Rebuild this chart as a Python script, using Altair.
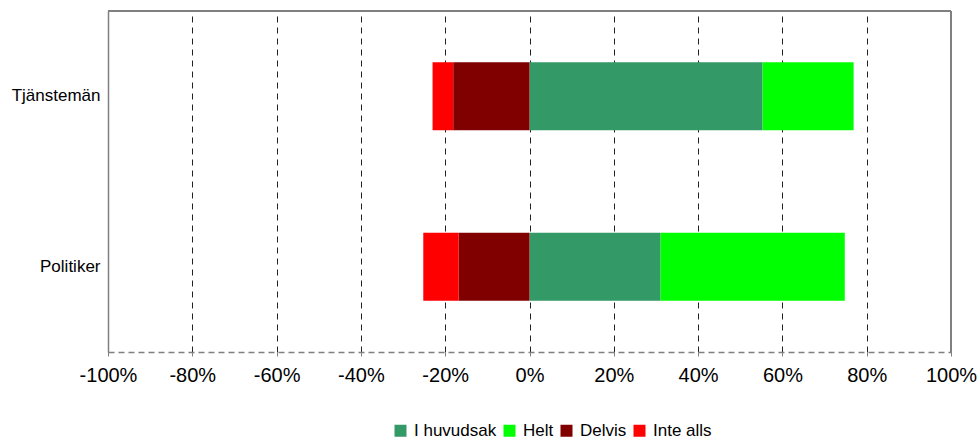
import altair as alt
import pandas as pd

groups = ["Tjänstemän", "Politiker"]
answers = ["I huvudsak", "Helt", "Delvis", "Inte alls"]
colors = ["#339966", "#00FF00", "#800000", "#FF0000"]
stack_order = [0, 1, 0, 1]
sign = [1, 1, -1, -1]
tjansteman = [55.3, 21.6, 18.1, 4.9]
politiker = [31.1, 43.7, 16.8, 8.4]
ticks = [-100, -80, -60, -40, -20, 0, 20, 40, 60, 80, 100]

rows = []
for g, vals in zip(groups, [tjansteman, politiker]):
    for a, v, o, s in zip(answers, vals, stack_order, sign):
        rows.append({"grupp": g, "svar": a, "andel": s * v / 100.0, "ordning": o})
df = pd.DataFrame(rows)

W, H = 843, 341
FONT = "Liberation Sans"

bars = alt.Chart(df).mark_bar().encode(
    x=alt.X("andel:Q", stack="zero",
            scale=alt.Scale(domain=[-1, 1], nice=False, zero=False),
            axis=alt.Axis(values=[t / 100 for t in ticks], title=None,
                          labelExpr="round(datum.value * 100) + '%'",
                          labelOverlap=False, labelFlush=False,
                          grid=True, gridColor="#222222", gridDash=[6, 5], gridWidth=1,
                          domainColor="#808080", domainDash=[6, 4], domainWidth=1.5,
                          tickColor="#808080", tickSize=4, labelPadding=9,
                          labelFont=FONT, labelFontSize=20, labelColor="#000000")),
    y=alt.Y("grupp:N", sort=groups,
            scale=alt.Scale(paddingInner=0.6, paddingOuter=0.3),
            axis=alt.Axis(title=None, ticks=False, domainColor="#808080", domainWidth=1.5,
                          labelPadding=8, labelFont=FONT, labelFontSize=17,
                          labelColor="#000000")),
    color=alt.Color("svar:N", sort=answers,
                    scale=alt.Scale(domain=answers, range=colors),
                    legend=alt.Legend(title=None, orient="none", direction="horizontal",
                                      columns=4, legendX=284, legendY=411,
                                      symbolType="square", symbolSize=144,
                                      symbolStrokeWidth=0, symbolOpacity=1,
                                      labelFont=FONT, labelFontSize=17,
                                      labelColor="#000000", labelOffset=5,
                                      columnPadding=4)),
    order=alt.Order("ordning:Q"),
)

frame_top = alt.Chart(df).mark_rule(color="#808080", strokeWidth=1.5).encode(
    x=alt.value(0), x2=alt.value(W), y=alt.value(0))
frame_right = alt.Chart(df).mark_rule(color="#808080", strokeWidth=1.5).encode(
    x=alt.value(W), y=alt.value(0), y2=alt.value(H))

chart = alt.layer(bars, frame_top, frame_right).properties(
    width=W, height=H,
    autosize=alt.AutoSizeParams(type="none"),
    padding={"left": 108, "top": 11, "right": 28, "bottom": 87},
    background="white",
).configure_view(stroke=None)

chart.save("out.html", embed_options={"renderer": "svg", "actions": False})
